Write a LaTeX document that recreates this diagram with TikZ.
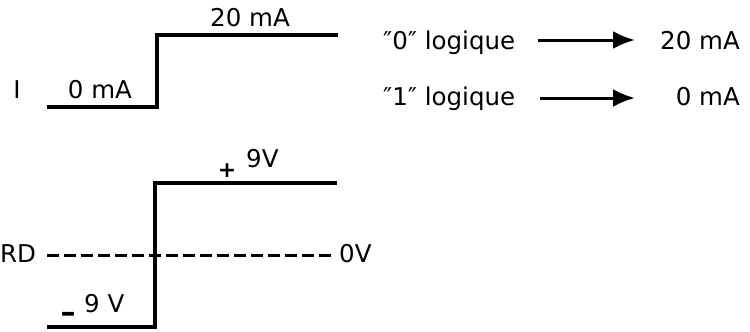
\documentclass[tikz,border=0pt]{standalone}
\usepackage{fontspec}
\setmainfont{DejaVu Sans}
\usetikzlibrary{arrows.meta}
\begin{document}
\begin{tikzpicture}[x=1pt,y=-1pt,
  wave/.style={line width=3.2pt,line join=miter},
  lbl/.style={inner sep=0pt,font=\fontsize{24.5}{26}\selectfont},
  arr/.style={line width=3pt,-{Latex[length=22pt,width=18pt]}}]
\useasboundingbox (0,0) rectangle (750,332);
% top waveform
\coordinate (t1) at (47,107);
\coordinate (t2) at (157,107);
\coordinate (t3) at (157,35);
\coordinate (t4) at (338,35);
\draw[wave] (t1) -- (t2) -- (t3) -- (t4);
\node[lbl,anchor=base] (I) at (17,98) {I};
\node[lbl,anchor=base] (zero) at (100,98) {0 mA};
\node[lbl,anchor=base] (twenty) at (250,27) {20 mA};
% logic table
\node[lbl,anchor=base west] (l0) at (383,49) {″0″ logique};
\node[lbl,anchor=base west] (l1) at (383,105) {″1″ logique};
\node[lbl,anchor=base east] (v0) at (740,49) {20 mA};
\node[lbl,anchor=base east] (v1) at (740,105) {0 mA};
\coordinate (s0) at (538,40);
\coordinate (e0) at (635,40);
\coordinate (s1) at (540,98);
\coordinate (e1) at (635,98);
\draw[arr] (s0) -- (e0);
\draw[arr] (s1) -- (e1);
% bottom waveform
\coordinate (b1) at (47,327);
\coordinate (b2) at (155,327);
\coordinate (b3) at (155,183);
\coordinate (b4) at (337,183);
\draw[wave] (b1) -- (b2) -- (b3) -- (b4);
\node[lbl,anchor=base west] (rd) at (0,262) {RD};
\node[lbl,anchor=base west] (ov) at (339,262) {0V};
\coordinate (d1) at (47,255);
\coordinate (d2) at (335,255);
\draw[line width=3pt,dash pattern=on 12pt off 5pt] (d1) -- (d2);
\node[lbl,anchor=base west] (p9) at (246,167) {9V};
\node[lbl,font=\fontsize{22}{24}\selectfont\bfseries] (plus) at (227,171) {+};
\node[lbl,font=\fontsize{30}{32}\selectfont\bfseries] (minus) at (68,317) {–};
\node[lbl,anchor=base west] (m9) at (84,312) {9 V};
\end{tikzpicture}
\end{document}
